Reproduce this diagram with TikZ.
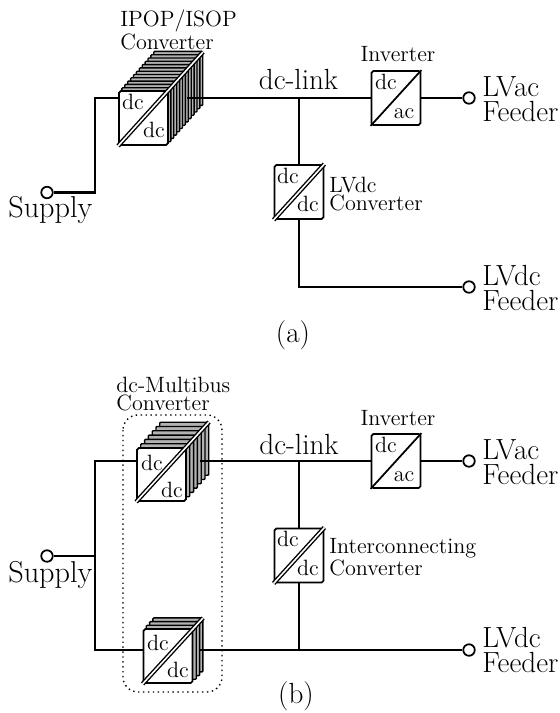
\documentclass[tikz,border=0pt]{standalone}
\usepackage{fontspec}

\tikzset{
	wire/.style={line width=1.3pt},
	convbox/.style={draw, fill=white, rounded corners=1pt, line width=1pt, minimum width=0.98cm, minimum height=1.08cm, inner sep=0pt},
	terminal/.style={draw, circle, fill=white, line width=1pt, minimum size=0.23cm, inner sep=0pt},
	layerbox/.style={draw, fill=black!30, rounded corners=0.5pt, line width=0.75pt},
	diagline/.style={line width=1pt},
	diagdouble/.style={draw=black, double=white, line width=0.8pt, double distance=0.9pt},
	smalltext/.style={font=\fontsize{12.6}{10.4}\selectfont, inner sep=0pt, align=left},
	bigtext/.style={font=\fontsize{16.6}{14.2}\selectfont, inner sep=0pt, align=left},
	dotframe/.style={dotted, line width=0.8pt, rounded corners=0.3cm}
}

\begin{document}
\begin{tikzpicture}[x=0.02cm, y=-0.02cm]

	\useasboundingbox (0,0) rectangle (559,713);

	% (a)
	\foreach \i in {12,...,1}
		\draw[layerbox] ({119+\i*2.9},{91-\i*3.3}) rectangle ++(49,54);
	\node[convbox] (stacka) at (143.5,118) {};
	\draw[diagdouble] (stacka.south west) -- (203,52);
	\node[smalltext, anchor=base] (stackadcin) at (133,109.5) {dc};
	\node[smalltext, anchor=base] (stackadcout) at (154,137.5) {dc};
	\node[smalltext, anchor=west] (stackatext) at (120,30) {IPOP/ISOP\\Converter};

	\node[convbox] (inva) at (396,98) {};
	\draw[diagline] (inva.south west) -- (inva.north east);
	\node[smalltext, anchor=base] (invadc) at (386,89.5) {dc};
	\node[smalltext, anchor=base] (invaac) at (404,118) {ac};
	\node[smalltext, anchor=base] (invatext) at (398,62) {Inverter};

	\node[convbox] (lvdca) at (299,192) {};
	\draw[diagdouble] (lvdca.south west) -- (lvdca.north east);
	\node[smalltext, anchor=base] (lvdcadcin) at (288,183) {dc};
	\node[smalltext, anchor=base] (lvdcadcout) at (308,211) {dc};
	\node[smalltext, anchor=west] (lvdcatext) at (329,194) {LVdc\\Converter};

	\node[terminal] (supplya) at (47,192.5) {};
	\node[terminal] (feedaca) at (469,98) {};
	\node[terminal] (feeddca) at (469,287) {};
	\node[bigtext, anchor=base west] (supplyatext) at (8,217) {\fontsize{17.2}{14.2}\selectfont Supply};
	\node[bigtext, anchor=west] (feedacatext) at (482,99) {LVac\\Feeder};
	\node[bigtext, anchor=west] (feeddcatext) at (482,288) {LVdc\\Feeder};
	\node[bigtext, anchor=base] (linkatext) at (298.5,90) {dc-link};
	\node[bigtext, anchor=base] (captiona) at (293,342) {(a)};

	\coordinate (benda) at (95,98);
	\coordinate (stackain) at (119,98);
	\coordinate (stackaout) at (187,98);
	\coordinate (linka) at (299,98);
	\draw[wire] (supplya) -| (benda) -- (stackain);
	\draw[wire] (stackaout) -- (inva.west);
	\draw[wire] (inva.east) -- (feedaca);
	\draw[wire] (linka) -- (lvdca.north);
	\draw[wire] (lvdca.south) |- (feeddca);

	% (b)
	\draw[dotframe] (123,415) rectangle (222,692);

	\foreach \i in {6,...,1}
		\draw[layerbox] ({137+\i*3.8},{448-\i*4.3}) rectangle ++(49,53);
	\node[convbox, minimum height=1.06cm] (stackb) at (161.5,474.5) {};
	\draw[diagdouble] (stackb.south west) -- (209,422);
	\node[smalltext, anchor=base] (stackbdcin) at (152,470) {dc};
	\node[smalltext, anchor=base] (stackbdcout) at (172,497) {dc};
	\node[smalltext, anchor=west] (stackbtext) at (116,394) {dc-Multibus\\Converter};

	\foreach \i in {3,...,1}
		\draw[layerbox] ({143+\i*3.3},{629-\i*3.7}) rectangle ++(50,54);
	\node[convbox] (stackc) at (168,656) {};
	\draw[diagdouble] (stackc.south west) -- (203,618);
	\node[smalltext, anchor=base] (stackcdcin) at (158,650) {dc};
	\node[smalltext, anchor=base] (stackcdcout) at (178,677) {dc};

	\node[convbox] (invb) at (396,461) {};
	\draw[diagline] (invb.south west) -- (invb.north east);
	\node[smalltext, anchor=base] (invbdc) at (386,452) {dc};
	\node[smalltext, anchor=base] (invbac) at (404,481) {ac};
	\node[smalltext, anchor=base] (invbtext) at (398,425) {Inverter};

	\node[convbox] (icb) at (299,555.5) {};
	\draw[diagdouble] (icb.south west) -- (icb.north east);
	\node[smalltext, anchor=base] (icbdcin) at (288,546) {dc};
	\node[smalltext, anchor=base] (icbdcout) at (308,575) {dc};
	\node[smalltext, anchor=west] (icbtext) at (329,557) {Interconnecting\\Converter};

	\node[terminal] (supplyb) at (47,556) {};
	\node[terminal] (feedacb) at (469,461) {};
	\node[terminal] (feeddcb) at (469,650) {};
	\node[bigtext, anchor=base west] (supplybtext) at (8,582) {\fontsize{17.2}{14.2}\selectfont Supply};
	\node[bigtext, anchor=west] (feedacbtext) at (482,462) {LVac\\Feeder};
	\node[bigtext, anchor=west] (feeddcbtext) at (482,650) {LVdc\\Feeder};
	\node[bigtext, anchor=base] (linkbtext) at (299,454) {dc-link};
	\node[bigtext, anchor=base] (captionb) at (296,703) {(b)};

	\coordinate (busbtop) at (95,461);
	\coordinate (busbmid) at (95,556);
	\coordinate (busbbot) at (95,650);
	\coordinate (stackbin) at (137,461);
	\coordinate (stackbout) at (200,461);
	\coordinate (stackcin) at (143,650);
	\coordinate (stackcout) at (200,650);
	\coordinate (linkbtop) at (299,461);
	\coordinate (linkbbot) at (299,650);
	\draw[wire] (supplyb) -- (busbmid);
	\draw[wire] (stackbin) -- (busbtop) -- (busbbot) -- (stackcin);
	\draw[wire] (stackbout) -- (invb.west);
	\draw[wire] (invb.east) -- (feedacb);
	\draw[wire] (stackcout) -- (feeddcb);
	\draw[wire] (linkbtop) -- (icb.north);
	\draw[wire] (icb.south) -- (linkbbot);

\end{tikzpicture}
\end{document}
